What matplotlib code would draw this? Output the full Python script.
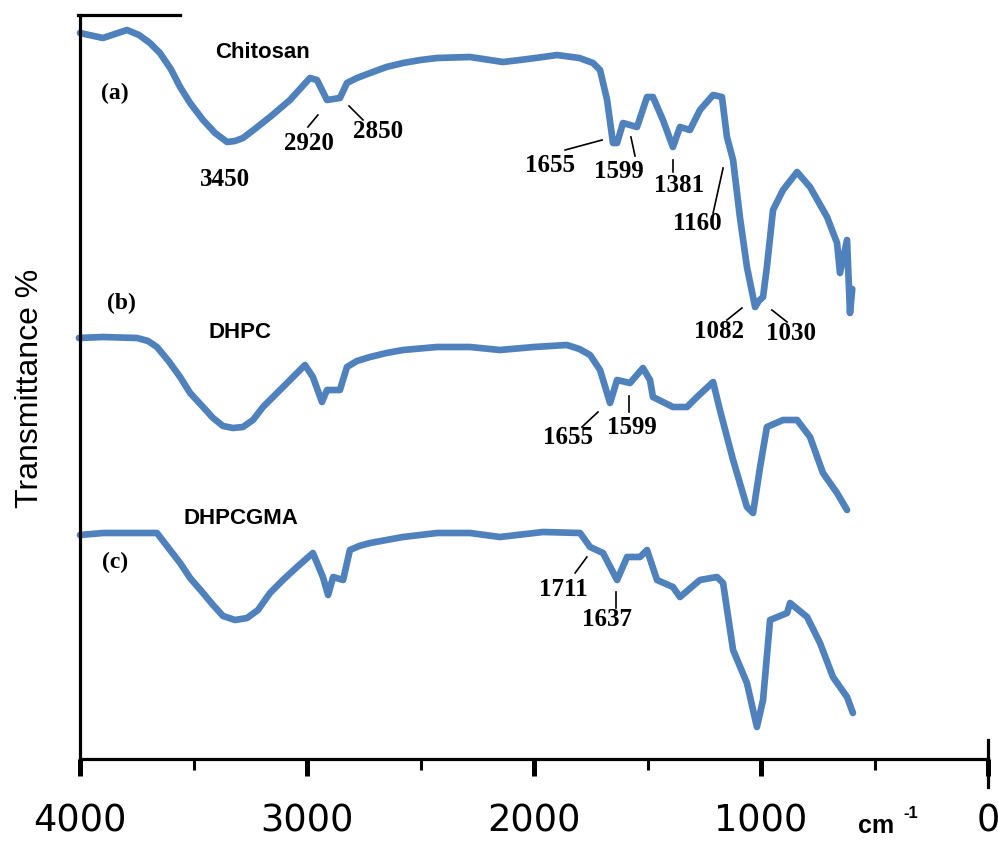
import matplotlib
matplotlib.use("Agg")
import matplotlib.pyplot as plt
from matplotlib.lines import Line2D

# ---------------- data (wavenumber cm^-1, transmittance in arbitrary offset units) -------------
chitosan_wn = [4000, 3899, 3793, 3740, 3692, 3648, 3600, 3559, 3515, 3458, 3405, 3352, 3317, 3282,
               3230, 3163, 3075, 2987, 2956, 2912, 2855, 2824, 2780, 2722, 2650, 2577, 2500, 2427,
               2282, 2137, 2062, 1960, 1899, 1800, 1740, 1709, 1678, 1652, 1634, 1608, 1546, 1502,
               1476, 1432, 1388, 1357, 1313, 1269, 1211, 1172, 1150, 1123, 1093, 1062, 1026, 1010,
               991, 974, 947, 903, 841, 784, 709, 665, 652, 621, 608, 598]
chitosan_t = [726, 721, 729, 724, 716, 706, 690, 672, 656, 639, 626, 617, 618, 621,
              630, 642, 659, 681, 679, 659, 661, 676, 681, 686, 692, 696, 699, 701,
              702, 697, 699, 702, 704, 701, 696, 689, 659, 616, 616, 636, 632, 662,
              662, 639, 612, 632, 629, 649, 664, 662, 622, 599, 542, 492, 452, 458,
              462, 492, 549, 569, 587, 572, 542, 516, 486, 519, 446, 470]

dhpc_wn = [4005, 3899, 3749, 3700, 3661, 3610, 3559, 3515, 3458, 3414, 3370, 3326, 3282, 3238,
           3194, 3141, 3088, 3009, 2974, 2934, 2912, 2855, 2824, 2780, 2722, 2650, 2577, 2427,
           2282, 2150, 2000, 1855, 1800, 1753, 1709, 1665, 1634, 1577, 1520, 1489, 1476, 1388,
           1326, 1282, 1211, 1181, 1123, 1062, 1035, 1004, 974, 903, 841, 784, 727, 665, 621]
dhpc_t = [421, 422, 421, 418, 412, 398, 382, 366, 352, 341, 333, 331, 332, 339,
          352, 364, 376, 394, 382, 357, 369, 369, 392, 398, 402, 406, 409, 412,
          412, 409, 412, 414, 410, 404, 389, 356, 379, 376, 391, 379, 362, 352,
          352, 362, 377, 349, 299, 252, 246, 292, 332, 339, 339, 322, 286, 266, 249]

dhpcgma_wn = [4000, 3899, 3661, 3610, 3559, 3515, 3458, 3414, 3370, 3317, 3264, 3216, 3163, 3106,
              3044, 2974, 2930, 2907, 2885, 2841, 2811, 2770, 2722, 2650, 2577, 2427, 2282, 2150,
              1960, 1797, 1753, 1696, 1634, 1590, 1533, 1502, 1458, 1388, 1357, 1269, 1194, 1167,
              1123, 1062, 1018, 991, 960, 885, 872, 797, 740, 683, 621, 595]
dhpcgma_t = [224, 226, 226, 211, 196, 181, 166, 154, 143, 139, 141, 149, 166, 179,
             192, 206, 182, 164, 182, 179, 209, 213, 216, 219, 222, 226, 226, 222,
             227, 226, 212, 206, 179, 202, 202, 209, 179, 172, 162, 179, 182, 176,
             109, 76, 32, 59, 139, 146, 156, 142, 116, 82, 62, 46]

series = [(chitosan_wn, chitosan_t), (dhpc_wn, dhpc_t), (dhpcgma_wn, dhpcgma_t)]

x_ticks = [4000, 3000, 2000, 1000, 0]
x_tick_labels = ["4000", "3000", "2000", "1000", "0"]
y_label = "Transmittance %"

# text labels: (text, wn, T, style)
labels = [
    ("Chitosan", 3198, 707, "sans"), ("(a)", 3846, 666, "serif"),
    ("DHPC", 3295, 426, "sans"), ("(b)", 3819, 456, "serif"),
    ("DHPCGMA", 3291, 241, "sans"), ("(c)", 3846, 197, "serif"),
]
# peak labels: (text, text wn, text T, leader (wn1, T1, wn2, T2) or None)
peaks = [
    ("3450", 3361, 579, None),
    ("2920", 2991, 616, (2996, 632, 2952, 644)),
    ("2850", 2687, 627, (2815, 653, 2753, 639)),
    ("1655", 1930, 594, (1863, 609, 1700, 619)),
    ("1599", 1626, 587, (1573, 622, 1555, 603)),
    ("1381", 1361, 574, (1388, 599, 1388, 587)),
    ("1160", 1282, 536, (1211, 546, 1167, 591)),
    ("1082", 1185, 427, (1150, 439, 1084, 451)),
    ("1030", 868, 426, (952, 449, 885, 437)),
    ("1655", 1850, 321, (1789, 332, 1718, 347)),
    ("1599", 1568, 331, (1581, 363, 1581, 347)),
    ("1711", 1872, 169, (1819, 186, 1767, 202)),
    ("1637", 1678, 139, (1639, 167, 1639, 151)),
]

# ---------------- figure -------------
W, H = 998, 841
fig = plt.figure(figsize=(W / 100, H / 100), dpi=100)


def fx(px):
    return px / W


def fy(py):
    return 1 - py / H


ax_left, ax_right, ax_top, ax_bottom = 80, 988, 15, 759
ax = fig.add_axes([fx(ax_left), fy(ax_bottom), (ax_right - ax_left) / W, (ax_bottom - ax_top) / H])
ax.set_xlim(4000, 0)
ax.set_ylim(0, 744)

blue = "#4F81BD"
for wn, t in series:
    ax.plot(wn, t, color=blue, lw=4.8, solid_joinstyle="round", solid_capstyle="round", clip_on=False)

for s in ["top", "right"]:
    ax.spines[s].set_visible(False)
for s in ["left", "bottom"]:
    ax.spines[s].set_linewidth(2.3)
ax.set_yticks([])
ax.set_xticks(x_ticks)
ax.set_xticklabels(x_tick_labels, fontfamily="DejaVu Sans", fontsize=26.5)
ax.set_xticks([3500, 2500, 1500, 500], minor=True)
ax.tick_params(axis="x", which="major", direction="out", length=12.5, width=3.6, pad=19)
ax.tick_params(axis="x", which="minor", direction="out", length=8, width=2.2)

for txt, wn, t, style in labels:
    if style == "sans":
        ax.text(wn, t, txt, family="Liberation Sans", fontweight="bold", fontsize=16,
                ha="center", va="center")
    else:
        ax.text(wn, t, txt, family="Liberation Serif", fontweight="bold", fontsize=17,
                ha="center", va="center")

for txt, wn, t, leader in peaks:
    ax.text(wn, t, txt, family="Liberation Serif", fontweight="bold", fontsize=18,
            ha="center", va="center")
    if leader is not None:
        ax.plot([leader[0], leader[2]], [leader[1], leader[3]], color="black", lw=1.2)

# partial frame pieces seen in the picture
fig.add_artist(Line2D([fx(78), fx(180)], [fy(15), fy(15)], color="black", lw=2.3))
fig.add_artist(Line2D([fx(988), fx(988)], [fy(740), fy(787)], color="black", lw=2.3))

# axis unit and y label
fig.text(fx(876), fy(826), "cm", family="Liberation Sans", fontweight="bold", fontsize=18,
         ha="center", va="center")
fig.text(fx(911), fy(813), "-1", family="Liberation Sans", fontweight="bold", fontsize=12,
         ha="center", va="center")
fig.text(fx(30), fy(388), y_label, family="Liberation Sans", fontsize=23, rotation=90,
         ha="center", va="center")

fig.savefig("out.png", dpi=100)
